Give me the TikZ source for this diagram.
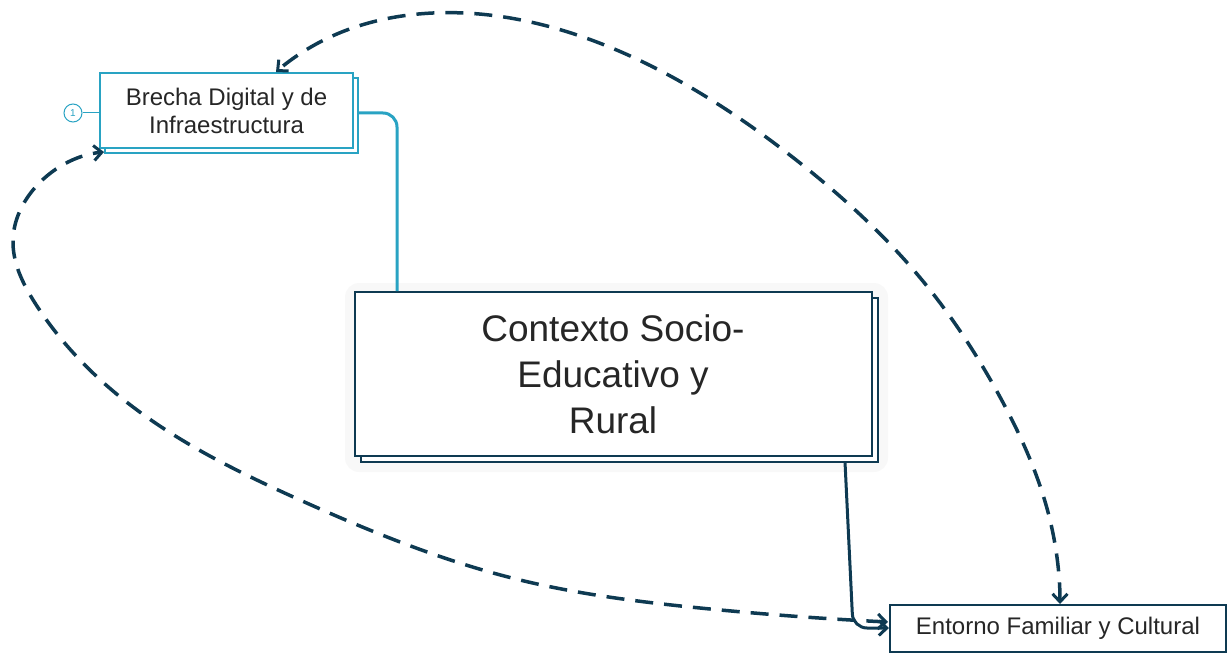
\documentclass[tikz,border=0pt]{standalone}
\usepackage{fontspec}
\setmainfont{Liberation Sans}
\usetikzlibrary{arrows.meta,hobby,calc}
\definecolor{teal1}{HTML}{29A3C3}
\definecolor{dark1}{HTML}{0E3A52}
\definecolor{txt}{HTML}{262626}
\tikzset{
  barbtip/.tip={Straight Barb[length=8pt,width=15pt,line width=3pt]},
  tealbox/.style={draw=teal1, line width=2pt, fill=white, text=txt, align=center, inner sep=0pt},
  darkbox/.style={draw=dark1, line width=2pt, fill=white, text=txt, align=center, inner sep=0pt},
  dashlink/.style={draw=dark1, line width=3.5pt, dash pattern=on 18pt off 11pt, {barbtip}-{barbtip}},
  ar/.style={-{barbtip}}
}
\begin{document}
\begin{tikzpicture}[x=1pt,y=-1pt]
\useasboundingbox (0,0) rectangle (1228,655);
% Brecha
\draw[teal1, line width=2pt, fill=white] (105,78) rectangle (358,153);
\node[tealbox, minimum width=253pt, minimum height=75pt, font=\fontsize{24}{28}\selectfont] (br) at (226.5,110.5) {Brecha Digital y de\\Infraestructura};
\node[draw=teal1, line width=1pt, circle, minimum size=18pt, inner sep=0pt, text=teal1, font=\fontsize{10}{10}\selectfont] (one) at (73,113) {1};
\draw[teal1, line width=1pt] (one.east) -- (br.west |- one.east);
% Contexto
\fill[black!10, opacity=0.25, rounded corners=14pt] (345,283) rectangle (888,472);
\draw[dark1, line width=2pt, fill=white] (361,298) rectangle (878,462);
\node[darkbox, minimum width=517pt, minimum height=164pt] (cx) at (613.5,374) {};
\node[text=txt, align=center, font=\fontsize{37}{46}\selectfont, inner sep=0pt] (cxt) at (613,374) {Contexto Socio-\\Educativo y\\Rural};
% Entorno
\node[darkbox, minimum width=336pt, minimum height=47pt, font=\fontsize{24}{28}\selectfont] (en) at (1058,628.5) {Entorno Familiar y Cultural};
% teal connector
\coordinate (t1) at (397,113);
\draw[teal1, line width=3pt, rounded corners=14pt] (358,113) -- (t1) -- (t1 |- cx.north);
% dark connector
\coordinate (d0) at (845,462);
\coordinate (d1) at (853,628);
\draw[dark1, line width=3pt, rounded corners=14pt, ar] (d0) -- (d1) -- (en.west |- d1);
% dashed curve top
\coordinate (a1) at (1060,604);
\coordinate (a2) at (276,72);
\draw[dashlink, use Hobby shortcut] (a1) .. (1050,520) .. (1000,397) .. (922,280) .. (800,163) .. (700,93) .. (583,37) .. (433,13) .. (320,42) .. (a2);
% dashed curve bottom
\coordinate (b1) at (888,622);
\coordinate (b2) at (104,152);
\draw[dashlink, use Hobby shortcut] (b1) .. (700,608) .. (520,580) .. (300,500) .. (133,407) .. (35,303) .. (13,240) .. (33,190) .. (b2);
\end{tikzpicture}
\end{document}
